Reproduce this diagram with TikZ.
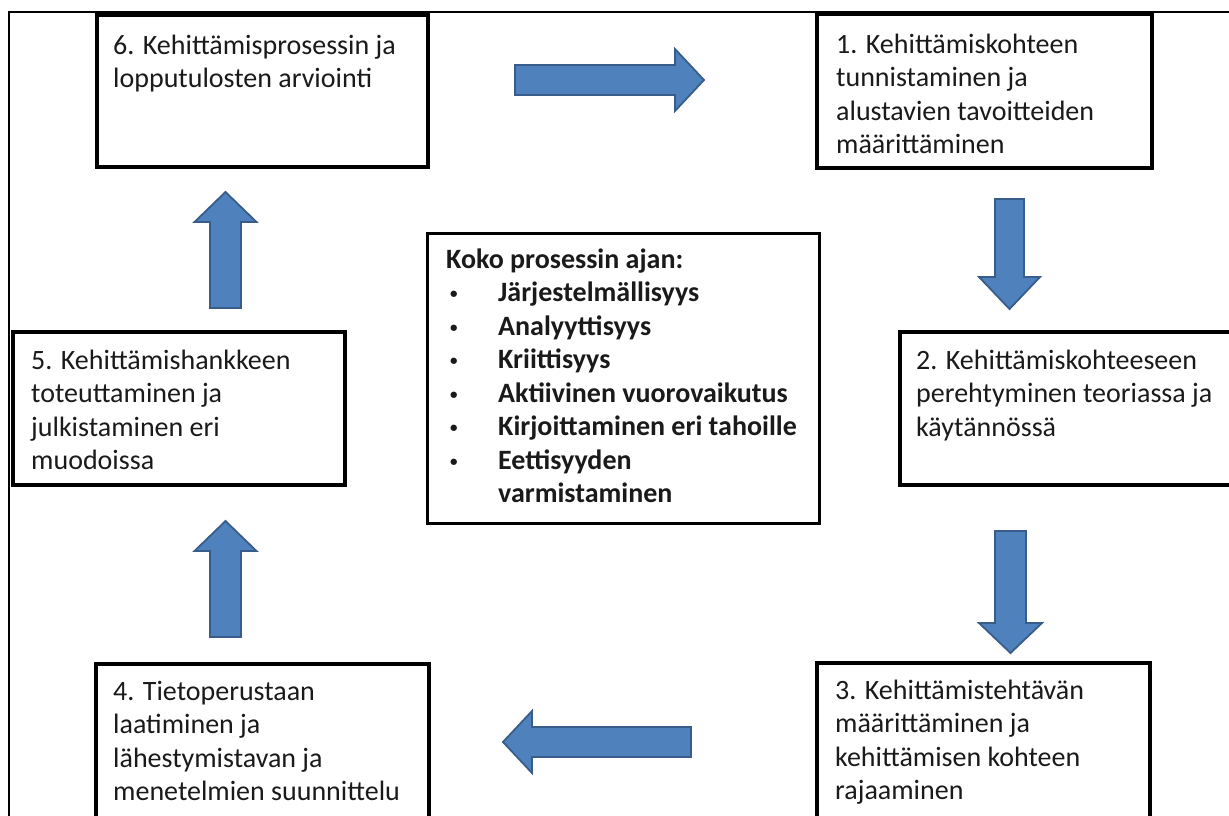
\documentclass[tikz,border=0pt]{standalone}
\usepackage{fontspec}
\setmainfont{Carlito}
\usetikzlibrary{calc}
\definecolor{arrowfill}{HTML}{4F81BD}
\definecolor{arrowline}{HTML}{385D8A}
\definecolor{txtcol}{HTML}{1A1A1A}
\newcommand\smallbul{\makebox[52pt][l]{\hspace{4pt}\raisebox{3pt}{\fontsize{15}{15}\selectfont •}}}
\begin{document}
\begin{tikzpicture}[x=1pt,y=-1pt,
  stagebox/.style={draw=black, line width=3.5pt, fill=white, anchor=north west, inner sep=0pt, outer sep=0pt},
  stagetext/.style={anchor=north west, inner sep=0pt, align=left, font=\fontsize{28}{33.5}\selectfont, text=txtcol},
  boldtext/.style={stagetext, font=\bfseries\fontsize{28}{33.5}\selectfont},
  blockarrow/.style={fill=arrowfill, draw=arrowline, line width=1.8pt, line join=miter},
]
\useasboundingbox (0,0) rectangle (1229,816);
\clip (0,0) rectangle (1229,816);
\fill[white] (0,0) rectangle (1229,816);
% outer frame (left and top edges)
\coordinate (fbl) at (9,830);
\coordinate (ftl) at (9,12);
\coordinate (ftr) at (1240,12);
\draw[line width=2.5pt] (fbl) -- (ftl) -- (ftr);

% stage boxes
\node[stagebox, minimum width=331pt, minimum height=152pt] (s6) at (97,15) {};
\node[stagebox, minimum width=335pt, minimum height=154pt] (s1) at (817,14) {};
\node[stagebox, minimum width=340pt, minimum height=153pt] (s2) at (900,332) {};
\node[stagebox, minimum width=333pt, minimum height=170pt] (s3) at (817,663) {};
\node[stagebox, minimum width=333pt, minimum height=170pt] (s4) at (96,664) {};
\node[stagebox, minimum width=332pt, minimum height=153pt] (s5) at (13,332) {};
\node[stagebox, line width=3pt, minimum width=392pt, minimum height=290pt] (core) at (427,233) {};

% texts
\node[stagetext] (t6) at ($(s6.north west)+(16,16)$) {\rule{0pt}{23pt}6. Kehittämisprosessin ja\\lopputulosten arviointi};
\node[stagetext] (t1) at ($(s1.north west)+(19,16)$) {\rule{0pt}{23pt}1. Kehittämiskohteen\\tunnistaminen ja\\alustavien tavoitteiden\\määrittäminen};
\node[stagetext] (t2) at ($(s2.north west)+(16,14)$) {\rule{0pt}{23pt}2. Kehittämiskohteeseen\\perehtyminen teoriassa ja\\käytännössä};
\node[stagetext] (t3) at ($(s3.north west)+(18,13)$) {\rule{0pt}{23pt}3. Kehittämistehtävän\\määrittäminen ja\\kehittämisen kohteen\\rajaaminen};
\node[stagetext] (t4) at ($(s4.north west)+(17,13)$) {\rule{0pt}{23pt}4. Tietoperustaan\\laatiminen ja\\lähestymistavan ja\\menetelmien suunnittelu};
\node[stagetext] (t5) at ($(s5.north west)+(18,14)$) {\rule{0pt}{23pt}5. Kehittämishankkeen\\toteuttaminen ja\\julkistaminen eri\\muodoissa};
\node[boldtext] (tc) at ($(core.north west)+(19,12)$) {\rule{0pt}{23pt}Koko prosessin ajan:\\
\smallbul Järjestelmällisyys\\
\smallbul Analyyttisyys\\
\smallbul Kriittisyys\\
\smallbul Aktiivinen vuorovaikutus\\
\smallbul Kirjoittaminen eri tahoille\\
\smallbul Eettisyyden\\
\hspace*{52pt}varmistaminen};

% block arrows
% 6 -> 1 (right)
\draw[blockarrow] (515,65) -- (675,65) -- (675,49) -- (704,80) -- (675,111) -- (675,95) -- (515,95) -- cycle;
% 1 -> 2 (down)
\draw[blockarrow] (995,199) -- (1024,199) -- (1024,277) -- (1040,277) -- (1009.5,309) -- (979,277) -- (995,277) -- cycle;
% 2 -> 3 (down)
\draw[blockarrow] (995,531) -- (1026,531) -- (1026,623) -- (1042,623) -- (1010.5,653) -- (979,623) -- (995,623) -- cycle;
% 3 -> 4 (left)
\draw[blockarrow] (691,727) -- (532,727) -- (532,711) -- (503,742) -- (532,773) -- (532,757) -- (691,757) -- cycle;
% 4 -> 5 (up)
\draw[blockarrow] (210,637) -- (241,637) -- (241,551) -- (256.5,551) -- (225.5,521) -- (194.5,551) -- (210,551) -- cycle;
% 5 -> 6 (up)
\draw[blockarrow] (210,308) -- (241,308) -- (241,222) -- (256.5,222) -- (225.5,192) -- (194.5,222) -- (210,222) -- cycle;
\end{tikzpicture}
\end{document}
